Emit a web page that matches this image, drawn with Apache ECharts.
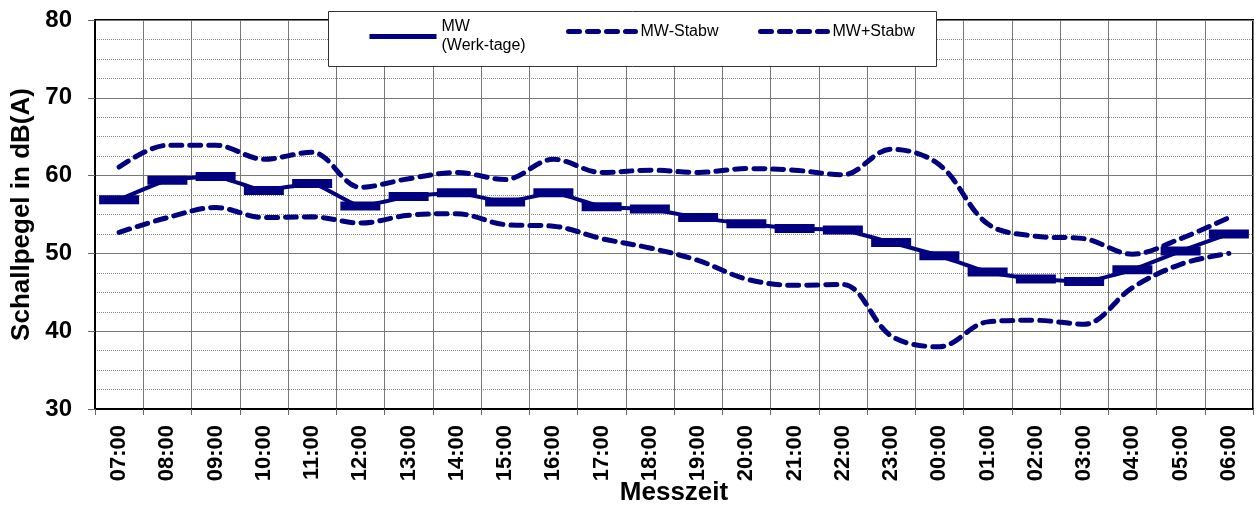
<!DOCTYPE html>
<html>
<head>
<meta charset="utf-8">
<script src="https://cdn.jsdelivr.net/npm/echarts@6/dist/echarts.min.js"></script>
<style>
  html, body { margin: 0; padding: 0; background: #fff; }
  #chart { width: 1257px; height: 506px; }
</style>
</head>
<body>
<div id="chart"></div>
<script>
// Messzeiten (Stunden)
var hours = ['07:00', '08:00', '09:00', '10:00', '11:00', '12:00', '13:00', '14:00',
  '15:00', '16:00', '17:00', '18:00', '19:00', '20:00', '21:00', '22:00',
  '23:00', '00:00', '01:00', '02:00', '03:00', '04:00', '05:00', '06:00'];
// Mittelwert Werktage
var mwWerktage = [56.9, 59.4, 59.9, 58.1, 59.0, 56.1, 57.3, 57.8, 56.6, 57.8, 56.0, 55.7,
  54.6, 53.8, 53.2, 53.0, 51.4, 49.7, 47.6, 46.7, 46.4, 47.9, 50.3, 52.5];
// MW - Standardabweichung
var mwMinusStabw = [52.7, 54.6, 55.9, 54.6, 54.7, 53.9, 54.9, 55.1, 53.7, 53.5, 51.9, 50.7,
  49.1, 46.7, 45.9, 46.0, 39.4, 38.0, 41.2, 41.4, 40.9, 45.6, 48.6, 50.0];
// MW + Standardabweichung
var mwPlusStabw = [61.1, 63.9, 63.9, 62.1, 63.0, 58.5, 59.6, 60.4, 59.5, 62.1, 60.4, 60.7,
  60.4, 60.9, 60.7, 60.1, 63.4, 61.4, 53.8, 52.2, 51.9, 49.9, 51.9, 54.6];

var navy = '#000080';
var font = 'Liberation Sans, Arial, sans-serif';
var dash = [11, 8];

var chartDom = document.getElementById('chart');
var myChart = echarts.init(chartDom);

// Legende: drei einzelne Legenden in einem weissen Kasten
var legendBase = {
  orient: 'horizontal',
  itemWidth: 67,
  itemHeight: 14,
  itemStyle: { opacity: 0 },
  selectedMode: false,
  z: 10,
  textStyle: { fontFamily: font, fontSize: 16, color: '#000', lineHeight: 19 }
};

var option = {
  backgroundColor: '#fff',
  animation: false,
  graphic: [
    {
      type: 'rect',
      left: 328,
      top: 11,
      shape: { width: 608, height: 55 },
      style: { fill: '#fff', stroke: '#333', lineWidth: 1 },
      z: 5
    }
  ],
  legend: [
    Object.assign({}, legendBase, {
      left: 362, top: 3, data: ['MW'],
      lineStyle: { width: 5, type: 'solid' },
      textStyle: { fontFamily: font, fontSize: 16, color: '#000', lineHeight: 19, padding: [19, 0, 0, 0] },
      formatter: function () { return 'MW\n(Werk-tage)'; }
    }),
    Object.assign({}, legendBase, {
      left: 561, top: 17, data: ['MW-Stabw'],
      lineStyle: { width: 5, type: dash, cap: 'round' }
    }),
    Object.assign({}, legendBase, {
      left: 753, top: 17, data: ['MW+Stabw'],
      lineStyle: { width: 5, type: dash, cap: 'round' }
    })
  ],
  grid: {
    left: 95,
    right: 4,
    top: 20,
    bottom: 97,
    show: true,
    borderColor: '#000',
    borderWidth: 2,
    outerBoundsMode: 'none'
  },
  xAxis: {
    type: 'category',
    data: hours,
    boundaryGap: true,
    name: 'Messzeit',
    nameLocation: 'middle',
    nameGap: 71,
    nameMoveOverlap: false,
    nameTextStyle: { fontFamily: font, fontSize: 26, fontWeight: 'bold', color: '#000' },
    axisLine: { lineStyle: { color: '#000', width: 2 } },
    axisTick: { show: true, length: 6, lineStyle: { color: '#666' } },
    axisLabel: {
      rotate: 90,
      interval: 0,
      margin: 16,
      fontFamily: font,
      fontSize: 22,
      fontWeight: 'bold',
      color: '#000'
    },
    splitLine: { show: true, interval: 0, lineStyle: { color: '#777', width: 1 } }
  },
  yAxis: {
    type: 'value',
    min: 30,
    max: 80,
    interval: 10,
    name: 'Schallpegel in dB(A)',
    nameLocation: 'middle',
    nameGap: 60,
    nameMoveOverlap: false,
    nameTextStyle: { fontFamily: font, fontSize: 26, fontWeight: 'bold', color: '#000' },
    axisLine: { show: true, lineStyle: { color: '#000', width: 2 } },
    axisTick: { show: true, length: 7, lineStyle: { color: '#666' } },
    axisLabel: {
      margin: 23,
      fontFamily: font,
      fontSize: 24,
      fontWeight: 'bold',
      color: '#000'
    },
    splitLine: { show: true, lineStyle: { color: '#777', width: 1 } },
    minorTick: { show: false, splitNumber: 4 },
    minorSplitLine: { show: true, lineStyle: { color: '#888', width: 1, type: 'dotted' } }
  },
  series: [
    {
      name: 'MW-Stabw',
      type: 'line',
      data: mwMinusStabw,
      smooth: 0.35,
      symbol: 'none',
      lineStyle: { color: navy, width: 5, type: dash, cap: 'round' },
      itemStyle: { color: navy },
      z: 2
    },
    {
      name: 'MW+Stabw',
      type: 'line',
      data: mwPlusStabw,
      smooth: 0.35,
      symbol: 'none',
      lineStyle: { color: navy, width: 5, type: dash, cap: 'round' },
      itemStyle: { color: navy },
      z: 2
    },
    {
      name: 'MW',
      type: 'line',
      data: mwWerktage,
      smooth: 0.15,
      symbol: 'rect',
      symbolSize: [40, 9],
      showAllSymbol: true,
      lineStyle: { color: navy, width: 4 },
      itemStyle: { color: navy },
      z: 3
    }
  ]
};

option && myChart.setOption(option);
</script>
</body>
</html>
